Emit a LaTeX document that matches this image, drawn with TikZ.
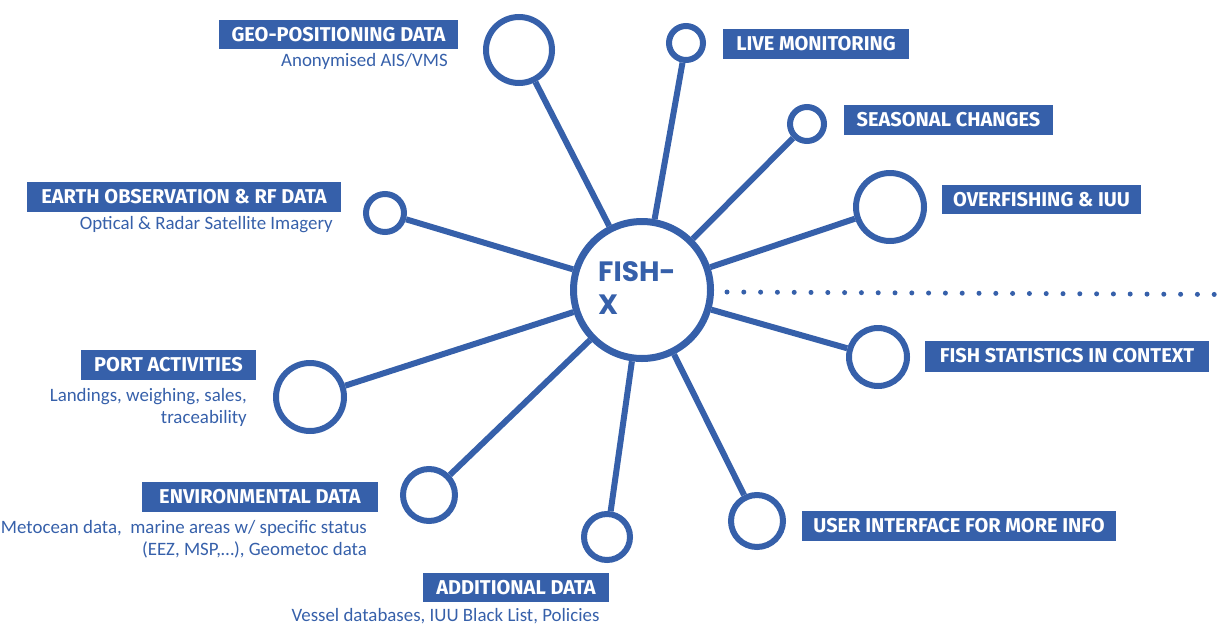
\documentclass[tikz,border=0pt]{standalone}
\usepackage{fontspec}
\setmainfont{Carlito}
\newfontfamily\labfont{Fira Sans}
\newfontfamily\hubfont{Poppins}
\definecolor{fx}{RGB}{54,96,170}
\begin{document}
\begin{tikzpicture}[x=1pt,y=1pt,
  sat/.style={circle, draw=fx, line width=6pt, inner sep=0pt, minimum size=#1},
  hubstyle/.style={circle, draw=fx, line width=7pt, inner sep=0pt, minimum size=137pt},
  spoke/.style={draw=fx, line width=6pt},
  lab/.style={fill=fx, text=white, inner sep=0pt, minimum height=30pt,
    font=\labfont\bfseries\fontsize{20}{20}\selectfont},
  sub/.style={text=fx, inner sep=0pt, align=right,
    font=\fontsize{18.9}{22}\selectfont},
  dots/.style={draw=fx, line width=5pt, line cap=round, dash pattern=on 0pt off 16.8pt}]
\useasboundingbox (0,0) rectangle (1230,-632);

% hub
\node[hubstyle] (hub) at (642,-290) {};
\node[anchor=west, text=fx, align=left, inner sep=0pt,
  font=\hubfont\bfseries\fontsize{28}{33}\selectfont] (hubtxt) at (598,-288.5) {FISH-\\X};

% satellites
\node[sat=66pt] (geo) at (519,-50) {};
\node[sat=34pt] (live) at (686,-43) {};
\node[sat=34pt] (seas) at (807,-124) {};
\node[sat=68pt] (over) at (890,-207) {};
\node[sat=38pt] (earth) at (385,-213) {};
\node[sat=58pt] (fish) at (878,-357) {};
\node[sat=68pt] (port) at (310,-397) {};
\node[sat=52pt] (env) at (429,-495) {};
\node[sat=46pt] (add) at (607,-537) {};
\node[sat=52pt] (user) at (757,-521) {};

% spokes
\foreach \s in {geo,live,seas,over,earth,fish,port,env,add,user}
  \draw[spoke] (\s) -- (hub);

% dotted line
\coordinate (dotS) at (727,-292);
\coordinate (dotE) at (1226,-294.5);
\draw[dots] (dotS) -- (dotE);

% labels
\node[lab, minimum width=239pt, minimum height=29pt] (geoL) at (338.5,-34.5) {GEO-POSITIONING DATA};
\node[lab, minimum width=186pt] (liveL) at (816,-43.5) {LIVE MONITORING};
\node[lab, minimum width=209pt] (seasL) at (948.5,-120) {SEASONAL CHANGES};
\node[lab, minimum width=199pt, minimum height=29pt] (overL) at (1041.5,-199.5) {OVERFISHING \& IUU};
\node[lab, minimum width=314pt] (earthL) at (184,-197) {EARTH OBSERVATION \& RF DATA};
\node[lab, minimum width=284pt, minimum height=31pt] (fishL) at (1067,-356) {FISH STATISTICS IN CONTEXT};
\node[lab, minimum width=175pt] (portL) at (168.5,-365) {PORT ACTIVITIES};
\node[lab, minimum width=236pt] (envL) at (260,-497) {ENVIRONMENTAL DATA};
\node[lab, minimum width=186pt, minimum height=29pt] (addL) at (516,-587.5) {ADDITIONAL DATA};
\node[lab, minimum width=314pt] (userL) at (959,-526) {USER INTERFACE FOR MORE INFO};

% sub texts
\node[sub, anchor=east] (geoS) at (448,-61) {Anonymised AIS/VMS};
\node[sub, anchor=east] (earthS) at (333,-225) {Optical \& Radar Satellite Imagery};
\node[sub, anchor=east] (portS) at (247,-407.5) {Landings, weighing, sales,\\traceability};
\node[sub, anchor=east] (envS) at (367,-539) {Metocean data,\ \ marine areas w/ specific status\\(EEZ, MSP,…), Geometoc data};
\node[sub, align=center] (addS) at (445.5,-616) {Vessel databases, IUU Black List, Policies};
\end{tikzpicture}
\end{document}
